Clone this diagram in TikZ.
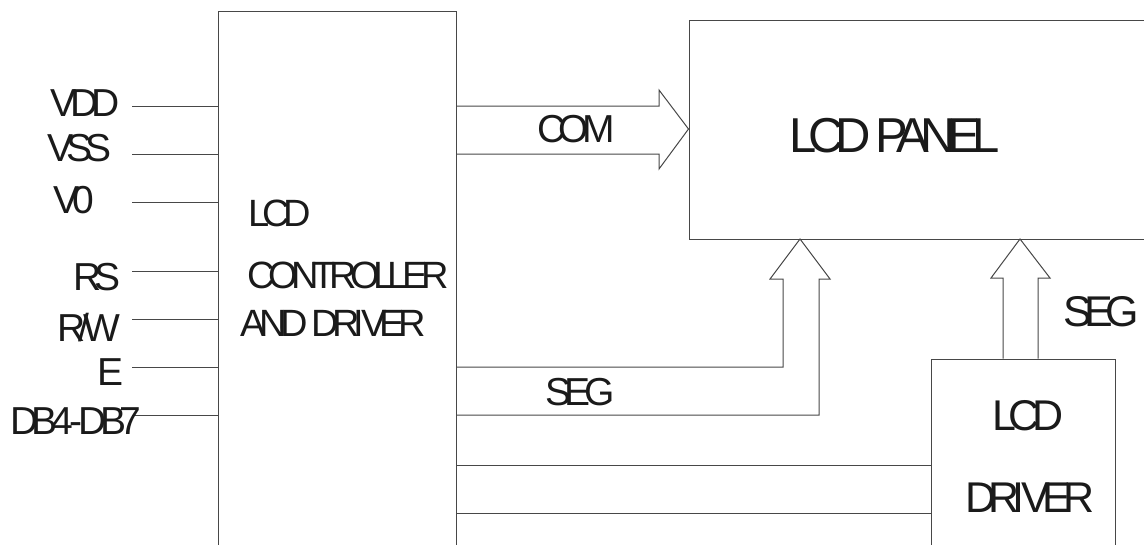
\documentclass[tikz,border=0pt]{standalone}
\usepackage{fontspec}
\newfontfamily\lblfont{Liberation Sans}[LetterSpace=-17]
\definecolor{linegray}{HTML}{474747}
\definecolor{textcol}{HTML}{1A1A1A}
\newcommand{\iV}{I\kern-0.08em V}
\begin{document}
\begin{tikzpicture}[x=1pt,y=-1pt,
  wire/.style={draw=linegray, line width=1pt},
  blk/.style={draw=linegray, line width=1pt, rectangle, inner sep=0pt},
  lbl/.style={inner sep=0pt, text=textcol, font=\lblfont\fontsize{39}{39}\selectfont},
  inlbl/.style={inner sep=0pt, text=textcol, font=\lblfont\fontsize{38}{38}\selectfont},
  biglbl/.style={inner sep=0pt, text=textcol, font=\lblfont\fontsize{49}{49}\selectfont},
  midlbl/.style={inner sep=0pt, text=textcol, font=\lblfont\fontsize{43}{43}\selectfont}]
\useasboundingbox (0,0) rectangle (1144,544);
\fill[white] (0,0) rectangle (1144,544);
\clip (0,0) rectangle (1144,544);
% blocks
\node[blk, minimum width=238pt, minimum height=549pt] (ctrl) at (337,285.5) {};
\node[blk, minimum width=471pt, minimum height=219pt] (panel) at (924.5,129.5) {};
\node[blk, minimum width=184pt, minimum height=201pt] (drv) at (1023,459.5) {};
% left pins
\coordinate (p1) at (132,106);
\coordinate (p2) at (132,154);
\coordinate (p3) at (132,202);
\coordinate (p4) at (132,271);
\coordinate (p5) at (132,319);
\coordinate (p6) at (132,367);
\coordinate (p7) at (132,415);
\foreach \p in {p1,p2,p3,p4,p5,p6,p7} \draw[wire] (\p) -- (\p -| ctrl.west);
\node[lbl, anchor=base east] (tvdd) at (120,116) {VDD};
\node[lbl, anchor=base east] (tvss) at (112,161) {VSS};
\node[lbl, anchor=base west] (tv0) at (53,213) {V0};
\node[lbl, anchor=base east] (trs) at (121,290) {RS};
\node[lbl, anchor=base east] (trw) at (120,341) {R/W};
\node[lbl, anchor=base east] (te) at (124,385) {E};
\node[lbl, anchor=base west] (tdb) at (10,434) {DB4\kern-0.09em-\kern-0.09em DB7};
% controller text
\node[inlbl, anchor=base west] (tc1) at (248,226) {LCD};
\node[inlbl, anchor=base west] (tc2) at (247,288) {CONTROLLER};
\node[inlbl, anchor=base west] (tc3) at (240,336) {AND DR\iV ER};
% panel text
\node[biglbl, anchor=base west] (tp) at (789,152) {LCD PANEL};
% driver text
\node[midlbl, anchor=base west] (td1) at (992,430) {LCD};
\node[midlbl, anchor=base west] (td2) at (965,512) {DR\iV ER};
% COM arrow
\coordinate (c1) at (456,106);
\coordinate (c2) at (456,154);
\draw[wire, line join=miter] (c1 -| ctrl.east) -- (659,106) -- (659,90) -- (panel.west |- 0,129) -- (659,169) -- (659,154) -- (c2 -| ctrl.east);
\node[lbl, anchor=base west] (tcom) at (537,142) {COM};
% SEG arrow 1
\coordinate (s1) at (456,367);
\coordinate (s2) at (456,415);
\coordinate (s1tip) at (800,239);
\draw[wire, line join=miter] (s1 -| ctrl.east) -- (783,367) -- (783,279) -- (770,279) -- (s1tip) -- (830,279) -- (819,279) -- (819,415) -- (s2 -| ctrl.east);
\node[lbl, anchor=base west] (tseg1) at (545,405) {SEG};
% SEG arrow 2
\coordinate (s3tip) at (1020,239);
\draw[wire, line join=miter] (drv.north -| 1003,0) -- (1003,278) -- (991,278) -- (s3tip) -- (1050,278) -- (1038,278) -- (drv.north -| 1038,0);
\node[midlbl, anchor=base west] (tseg2) at (1063,326) {SEG};
% lines to driver
\coordinate (d1) at (456,465);
\coordinate (d2) at (456,513);
\draw[wire] (d1 -| ctrl.east) -- (d1 -| drv.west);
\draw[wire] (d2 -| ctrl.east) -- (d2 -| drv.west);
\end{tikzpicture}
\end{document}
